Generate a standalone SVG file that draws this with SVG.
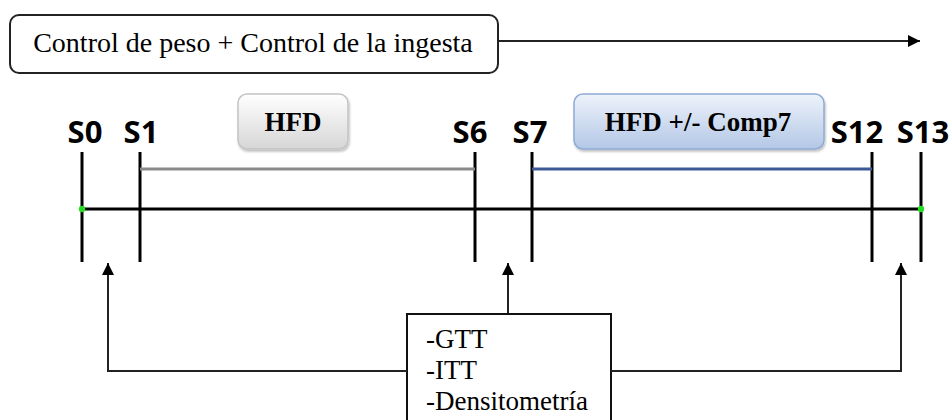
<svg xmlns="http://www.w3.org/2000/svg" width="952" height="420" viewBox="0 0 952 420">
  <style>
    .serif { font-family: "Liberation Serif", "Times New Roman", serif; fill: #000; }
    .lbl { font-family: "Open Sans", "Liberation Sans", sans-serif; font-weight: 700; font-size: 31px; fill: #000; text-anchor: middle; }
    .tick { stroke: #000; stroke-width: 3; }
    .conn { fill: none; stroke: #222; stroke-width: 2; }
  </style>
  <defs>
    <marker id="arr" markerUnits="userSpaceOnUse" markerWidth="14" markerHeight="14" viewBox="0 0 14 14" refX="13" refY="7" orient="auto">
      <path d="M1,1 L13,7 L1,13 Z" fill="#000"/>
    </marker>
    <linearGradient id="gGray" x1="0" y1="0" x2="0" y2="1">
      <stop offset="0" stop-color="#ffffff"/>
      <stop offset="1" stop-color="#d6d6d6"/>
    </linearGradient>
    <linearGradient id="gBlue" x1="0" y1="0" x2="0" y2="1">
      <stop offset="0" stop-color="#eef3fb"/>
      <stop offset="1" stop-color="#b3c7e6"/>
    </linearGradient>
    <filter id="sh" x="-10%" y="-10%" width="120%" height="130%">
      <feDropShadow dx="1" dy="2" stdDeviation="1.2" flood-color="#000" flood-opacity="0.25"/>
    </filter>
  </defs>

  <g id="control">
    <rect x="10" y="15" width="488" height="58" rx="9" fill="#fff" stroke="#222" stroke-width="2"/>
    <text class="serif" x="253" y="52" font-size="28" text-anchor="middle">Control de peso + Control de la ingesta</text>
  </g>

  <g id="timeline">
    <line x1="82" y1="209" x2="921" y2="209" stroke="#000" stroke-width="3"/>
    <line class="tick" x1="82" y1="152" x2="82" y2="262"/>
    <line class="tick" x1="140" y1="152" x2="140" y2="262"/>
    <line class="tick" x1="475" y1="152" x2="475" y2="262"/>
    <line class="tick" x1="532" y1="152" x2="532" y2="262"/>
    <line class="tick" x1="872" y1="152" x2="872" y2="262"/>
    <line class="tick" x1="921" y1="152" x2="921" y2="262"/>
    <line x1="140" y1="169" x2="475" y2="169" stroke="#8a8a8a" stroke-width="3"/>
    <line x1="532" y1="169" x2="872" y2="169" stroke="#3c5a96" stroke-width="3"/>
    <circle cx="82" cy="209" r="3.2" fill="#22dd22"/>
    <circle cx="921" cy="209" r="3.2" fill="#22dd22"/>
  </g>

  <g id="labels">
    <text class="lbl" x="85" y="143">S0</text>
    <text class="lbl" x="141" y="143">S1</text>
    <text class="lbl" x="470" y="143">S6</text>
    <text class="lbl" x="530" y="143">S7</text>
    <text class="lbl" x="857" y="143">S12</text>
    <text class="lbl" x="923" y="143">S13</text>
  </g>

  <g id="hfd">
    <rect x="238" y="94" width="110" height="55" rx="9" fill="url(#gGray)" stroke="#c4c4c4" stroke-width="1.5" filter="url(#sh)"/>
    <text class="serif" x="293" y="131" font-size="27" font-weight="700" text-anchor="middle">HFD</text>
  </g>

  <g id="hfd-comp7">
    <rect x="574" y="94" width="250" height="55" rx="9" fill="url(#gBlue)" stroke="#8eaad6" stroke-width="1.5" filter="url(#sh)"/>
    <text class="serif" x="698" y="131" font-size="27" font-weight="700" text-anchor="middle">HFD +/- Comp7</text>
  </g>

  <g id="tests">
    <rect x="407" y="314" width="204" height="130" fill="#fff" stroke="#111" stroke-width="2"/>
    <text class="serif" x="426" y="348" font-size="27">-GTT</text>
    <text class="serif" x="426" y="379" font-size="27">-ITT</text>
    <text class="serif" x="426" y="410" font-size="27">-Densitometría</text>
  </g>

  <g id="connectors">
    <line class="conn" x1="498" y1="41" x2="920" y2="41" marker-end="url(#arr)"/>
    <path class="conn" d="M407,371 H108 V263" marker-end="url(#arr)"/>
    <path class="conn" d="M508,313 V263" marker-end="url(#arr)"/>
    <path class="conn" d="M611,371 H901 V263" marker-end="url(#arr)"/>
  </g>
</svg>
